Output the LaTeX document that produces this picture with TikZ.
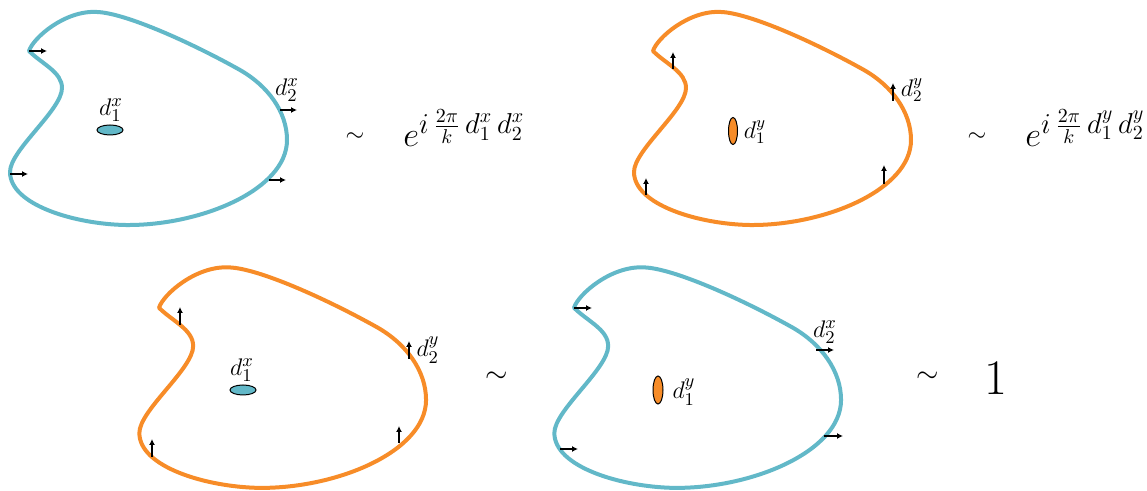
\documentclass[tikz,border=0pt]{standalone}
\usetikzlibrary{arrows.meta}
\DeclareMathSizes{17}{17}{14}{10}
\definecolor{blobcyan}{RGB}{98,184,200}
\definecolor{bloborange}{RGB}{247,140,40}
\tikzset{
  blob/.style={line width=2pt,line join=round},
  tick/.style={line width=1pt,-{Latex[length=3pt,width=3pt]}},
  defect/.style={draw=black,line width=0.5pt},
  lbl/.style={inner sep=0pt,font=\fontsize{13}{15}\selectfont},
  rel/.style={inner sep=0pt,font=\fontsize{13}{15}\selectfont},
  expo/.style={inner sep=0pt,anchor=base west,font=\fontsize{17}{20}\selectfont},
}
\def\blobpath{(29,51) .. controls (33,38) and (65,10) .. (97,12)
  .. controls (125,13) and (190,42) .. (240,70)
  .. controls (268,86) and (287,112) .. (287,140)
  .. controls (287,190) and (200,226) .. (125,225)
  .. controls (75,224) and (10,205) .. (10,172)
  .. controls (10,150) and (62,110) .. (62,88)
  .. controls (62,72) and (42,64) .. (29,51) -- cycle}
\begin{document}
\begin{tikzpicture}[x=0.5pt,y=-0.5pt]
\useasboundingbox (0,0) rectangle (1147,491);
% blob 1 (top left, cyan)
\draw[blob,blobcyan] \blobpath;
% blob 2 (top right, orange)
\begin{scope}[shift={(624,0)}]
\draw[blob,bloborange] \blobpath;
\end{scope}
% blob 3 (bottom left, orange)
\begin{scope}[shift={(129,255)},scale=1.035]
\draw[blob,bloborange] \blobpath;
\end{scope}
% blob 4 (bottom right, cyan)
\begin{scope}[shift={(544,255)},scale=1.035]
\draw[blob,blobcyan] \blobpath;
\end{scope}
% defects
\draw[defect,fill=blobcyan] (110,130) ellipse [x radius=13,y radius=5];
\draw[defect,fill=bloborange] (733,131) ellipse [x radius=4.5,y radius=13.5];
\draw[defect,fill=blobcyan] (243,390) ellipse [x radius=13,y radius=5];
\draw[defect,fill=bloborange] (658,390) ellipse [x radius=5,y radius=14];
% ticks blob 1
\draw[tick] (29,51) -- (47,51);
\draw[tick] (10,174) -- (28,174);
\draw[tick] (280,110) -- (297,110);
\draw[tick] (269,180) -- (286,180);
% ticks blob 2
\draw[tick] (673,69) -- (673,52);
\draw[tick] (893,101) -- (893,83);
\draw[tick] (646,195) -- (646,178);
\draw[tick] (884,184) -- (884,165);
% ticks blob 3
\draw[tick] (180,325) -- (180,307);
\draw[tick] (409,359) -- (409,341);
\draw[tick] (152,457) -- (152,439);
\draw[tick] (399,443) -- (399,426);
% ticks blob 4
\draw[tick] (574,308) -- (592,308);
\draw[tick] (816,350) -- (834,350);
\draw[tick] (560,449) -- (578,449);
\draw[tick] (824,436) -- (843,436);
% labels
\node[lbl] (l1a) at (111,110) {$d_1^x$};
\node[lbl] (l1b) at (287,90) {$d_2^x$};
\node[lbl,font=\fontsize{12}{14}\selectfont] (l2a) at (755,132) {$d_1^y$};
\node[lbl,font=\fontsize{12}{14}\selectfont] (l2b) at (912,90) {$d_2^y$};
\node[lbl] (l3a) at (242,370) {$d_1^x$};
\node[lbl] (l3b) at (428,350) {$d_2^y$};
\node[lbl] (l4a) at (684,392) {$d_1^y$};
\node[lbl] (l4b) at (825,332) {$d_2^x$};
% relations
\node[rel] (s1) at (355,137) {$\sim$};
\node[expo] (e1) at (403,147) {$e^{i\,\frac{2\pi}{k}\,d_1^x\,d_2^x}$};
\node[rel] (s2) at (977,137) {$\sim$};
\node[expo] (e2) at (1025,147) {$e^{i\,\frac{2\pi}{k}\,d_1^y\,d_2^y}$};
\node[rel,font=\fontsize{15}{17}\selectfont] (s3) at (497,377) {$\sim$};
\node[rel,font=\fontsize{15}{17}\selectfont] (s4) at (928,377) {$\sim$};
\node[inner sep=0pt,anchor=base,font=\fontsize{26}{30}\selectfont] (one) at (996,395) {$1$};
\end{tikzpicture}
\end{document}
